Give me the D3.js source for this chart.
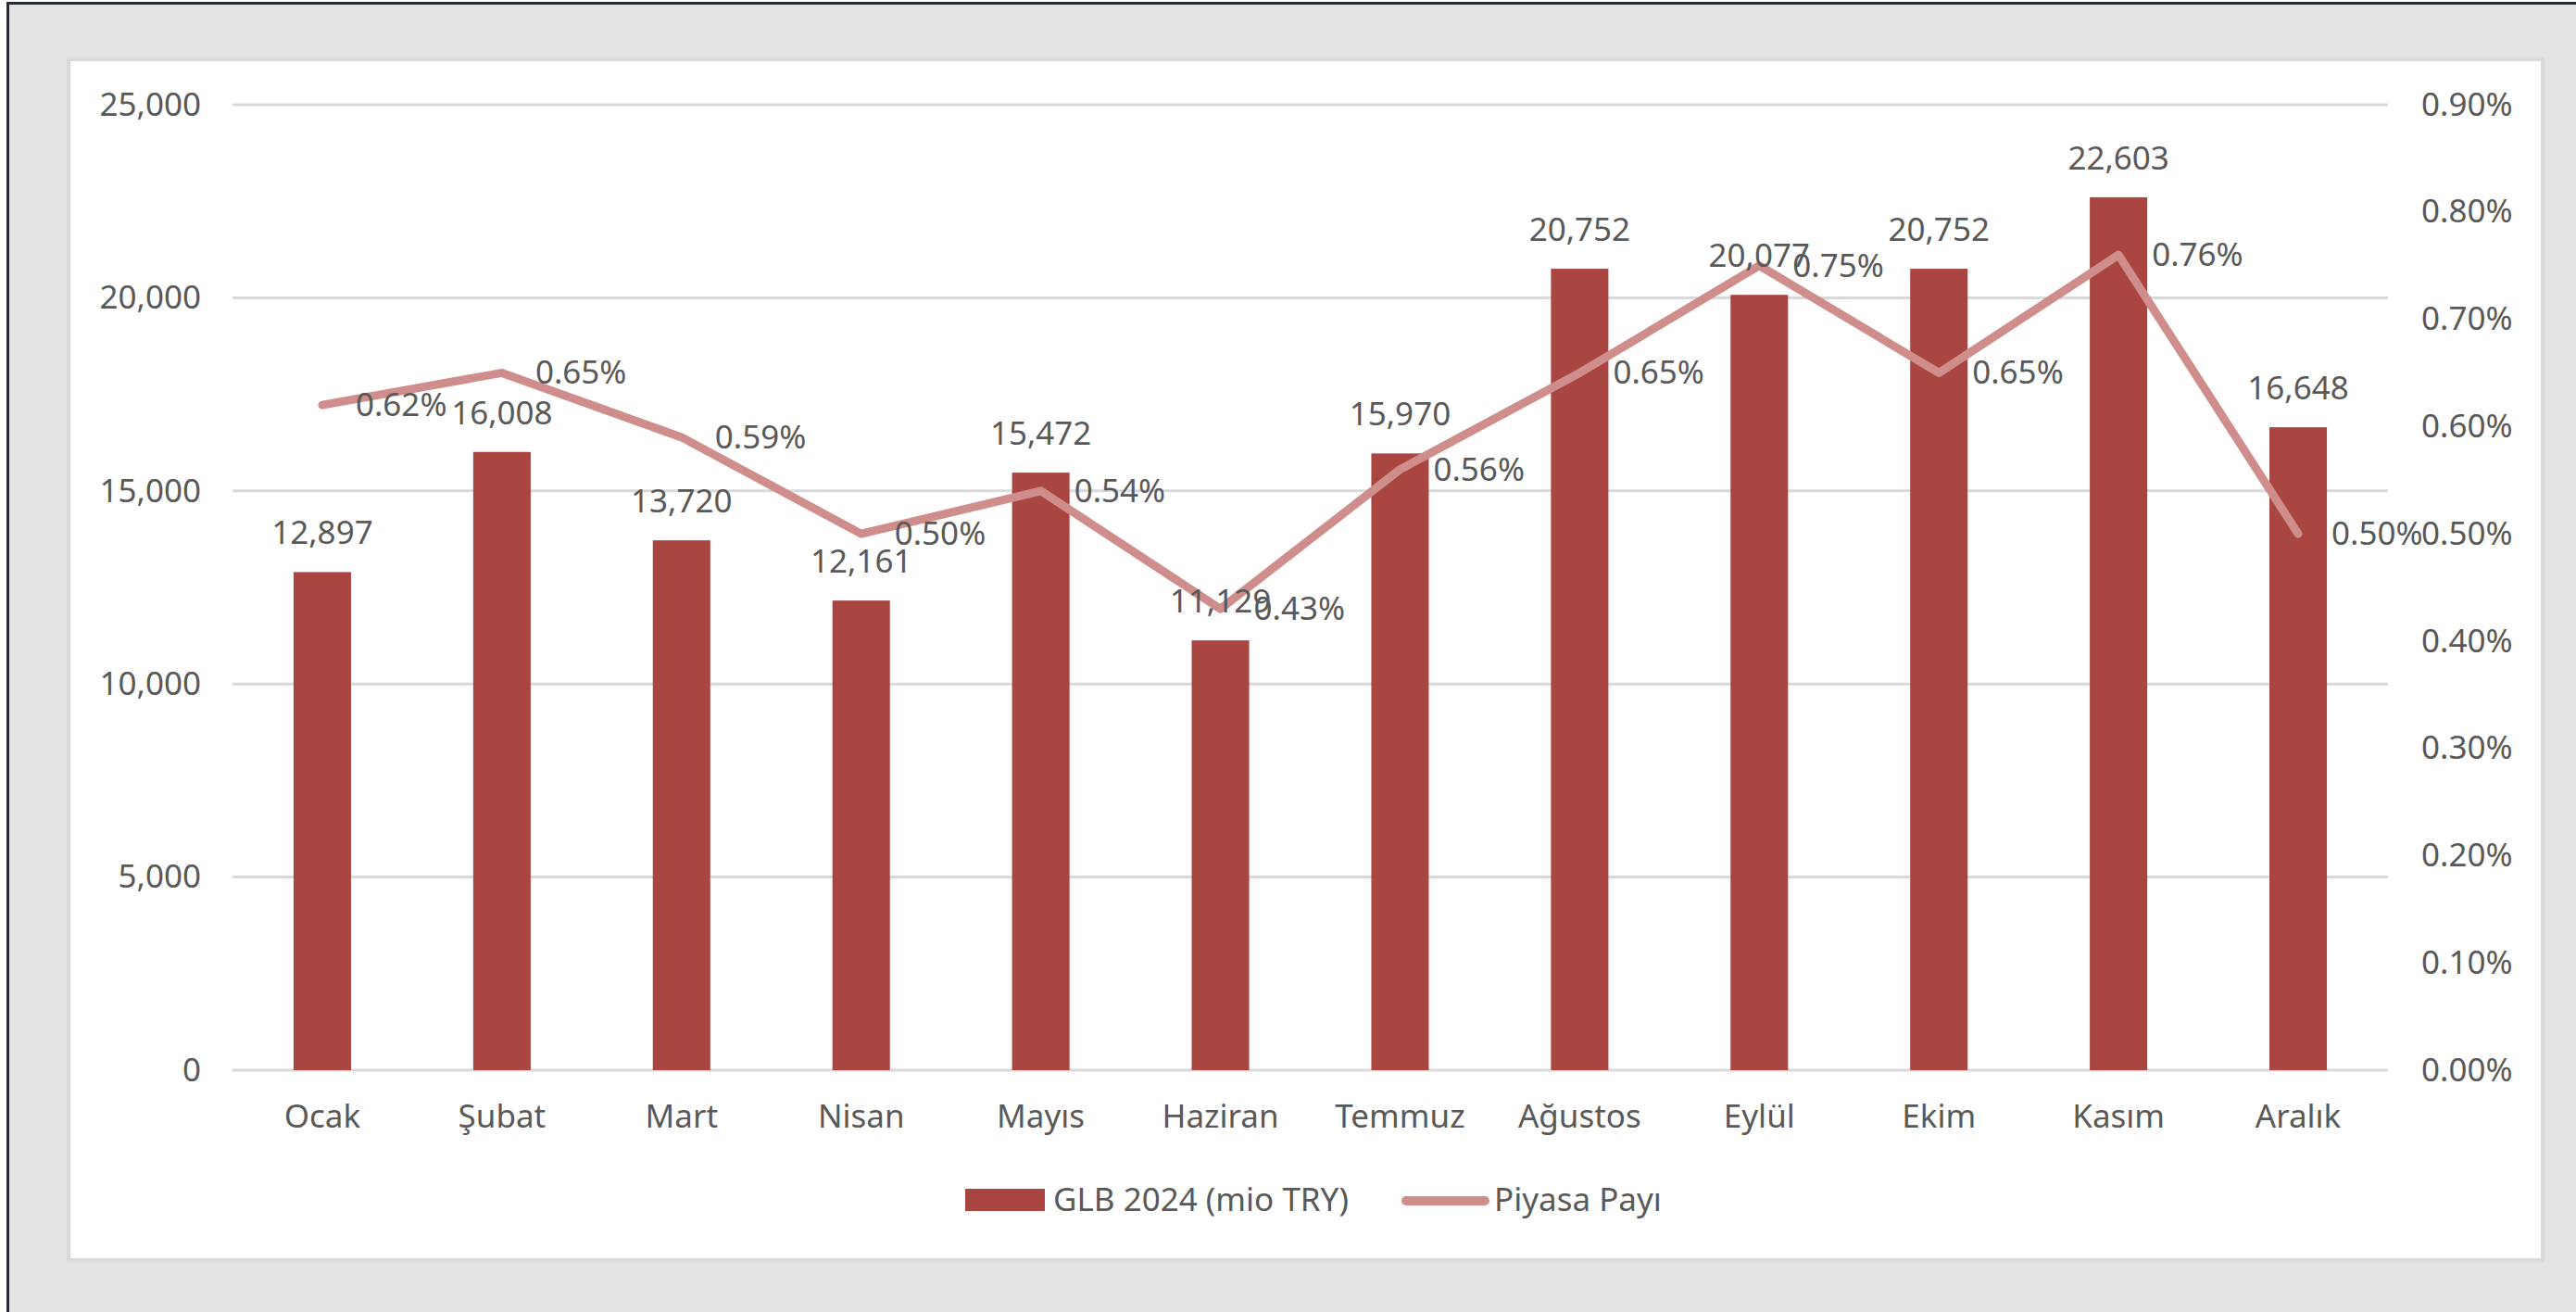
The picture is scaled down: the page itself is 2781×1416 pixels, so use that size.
<!DOCTYPE html>
<html>
<head>
<meta charset="utf-8">
<script src="https://cdn.jsdelivr.net/npm/d3@7"></script>
<style>
  html, body { margin: 0; padding: 0; background: #ffffff; }
  text { font-family: "Segoe UI", "Noto Sans", "Open Sans", sans-serif; fill: #595959; }
</style>
</head>
<body>
<div id="chart"></div>
<script>
// data
const months = ["Ocak", "Şubat", "Mart", "Nisan", "Mayıs", "Haziran", "Temmuz", "Ağustos", "Eylül", "Ekim", "Kasım", "Aralık"];
const glb = [12897, 16008, 13720, 12161, 15472, 11129, 15970, 20752, 20077, 20752, 22603, 16648];
const share = [0.0062, 0.0065, 0.0059, 0.0050, 0.0054, 0.0043, 0.0056, 0.0065, 0.0075, 0.0065, 0.0076, 0.0050];
const leftTicks = [0, 5000, 10000, 15000, 20000, 25000];
const rightTicks = [0, 0.001, 0.002, 0.003, 0.004, 0.005, 0.006, 0.007, 0.008, 0.009];
const seriesNames = ["GLB 2024 (mio TRY)", "Piyasa Payı"];

const width = 2781, height = 1416;
const barColor = "#a94642", lineColor = "#cf8d8b", gridColor = "#d9d9d9";
const fontSize = 35;

const svg = d3.select("#chart").append("svg")
	.attr("width", width).attr("height", height);

/*----- frame and panel -----*/
svg.append("rect")
	.attr("x", 8.5).attr("y", 3.5)
	.attr("width", width + 20).attr("height", height + 20)
	.attr("fill", "#e3e3e3")
	.attr("stroke", "#272b36").attr("stroke-width", 3);

svg.append("rect")
	.attr("x", 74).attr("y", 64)
	.attr("width", 2671).attr("height", 1296)
	.attr("fill", "#ffffff")
	.attr("stroke", gridColor).attr("stroke-width", 4);

/*----- scales -----*/
const x = d3.scaleBand()
	.domain(months)
	.range([251, 2578])
	.paddingInner(0.68)
	.paddingOuter(0.34);

const y = d3.scaleLinear().domain([0, 25000]).range([1155, 113]);
const y2 = d3.scaleLinear().domain([0, 0.009]).range([1155, 113]);

const fmtNum = d3.format(",");
const fmtPct = d3.format(".2%");

/*----- grid lines -----*/
svg.append("g").selectAll("line")
	.data(leftTicks)
	.enter().append("line")
	.attr("x1", 251).attr("x2", 2578)
	.attr("y1", d => y(d)).attr("y2", d => y(d))
	.attr("stroke", gridColor).attr("stroke-width", 3);

/*----- axes (text only, as in the original) -----*/
const leftAxis = svg.append("g")
	.attr("transform", "translate(217,0)")
	.call(d3.axisLeft(y).tickValues(leftTicks).tickFormat(fmtNum).tickSize(0).tickPadding(0));
leftAxis.select(".domain").remove();
leftAxis.selectAll("text").style("font-size", fontSize + "px").attr("fill", "#595959").attr("font-family", null);

const rightAxis = svg.append("g")
	.attr("transform", "translate(2614,0)")
	.call(d3.axisRight(y2).tickValues(rightTicks).tickFormat(fmtPct).tickSize(0).tickPadding(0));
rightAxis.select(".domain").remove();
rightAxis.selectAll("text").style("font-size", fontSize + "px").attr("fill", "#595959").attr("font-family", null);

const bottomAxis = svg.append("g")
	.attr("transform", "translate(0,1155)")
	.call(d3.axisBottom(x).tickSize(0).tickPadding(37));
bottomAxis.select(".domain").remove();
bottomAxis.selectAll("text").style("font-size", fontSize + "px").attr("fill", "#595959").attr("font-family", null);

/*----- bars -----*/
svg.append("g").selectAll("rect")
	.data(glb)
	.enter().append("rect")
	.attr("x", (d, i) => x(months[i]))
	.attr("y", d => y(d))
	.attr("width", x.bandwidth())
	.attr("height", d => y(0) - y(d))
	.attr("fill", barColor);

/*----- share line -----*/
const line = d3.line()
	.x((d, i) => x(months[i]) + x.bandwidth() / 2)
	.y(d => y2(d));

svg.append("path")
	.datum(share)
	.attr("d", line)
	.attr("fill", "none")
	.attr("stroke", lineColor)
	.attr("stroke-width", 9)
	.attr("stroke-linejoin", "round")
	.attr("stroke-linecap", "round");

/*----- data labels -----*/
svg.append("g").selectAll("text")
	.data(glb)
	.enter().append("text")
	.attr("x", (d, i) => x(months[i]) + x.bandwidth() / 2)
	.attr("y", d => y(d) - 30)
	.attr("text-anchor", "middle")
	.style("font-size", fontSize + "px")
	.text(d => fmtNum(d));

svg.append("g").selectAll("text")
	.data(share)
	.enter().append("text")
	.attr("x", (d, i) => x(months[i]) + x.bandwidth() / 2 + 36)
	.attr("y", d => y2(d) + 12)
	.attr("text-anchor", "start")
	.style("font-size", fontSize + "px")
	.text(d => fmtPct(d));

/*----- legend -----*/
const legend = svg.append("g");
legend.append("rect")
	.attr("x", 1042).attr("y", 1283)
	.attr("width", 86).attr("height", 24)
	.attr("fill", barColor);
legend.append("text")
	.attr("x", 1137).attr("y", 1307)
	.style("font-size", fontSize + "px")
	.text(seriesNames[0]);
legend.append("line")
	.attr("x1", 1518).attr("x2", 1603)
	.attr("y1", 1296).attr("y2", 1296)
	.attr("stroke", lineColor).attr("stroke-width", 10)
	.attr("stroke-linecap", "round");
legend.append("text")
	.attr("x", 1613).attr("y", 1307)
	.style("font-size", fontSize + "px")
	.text(seriesNames[1]);
</script>
</body>
</html>
